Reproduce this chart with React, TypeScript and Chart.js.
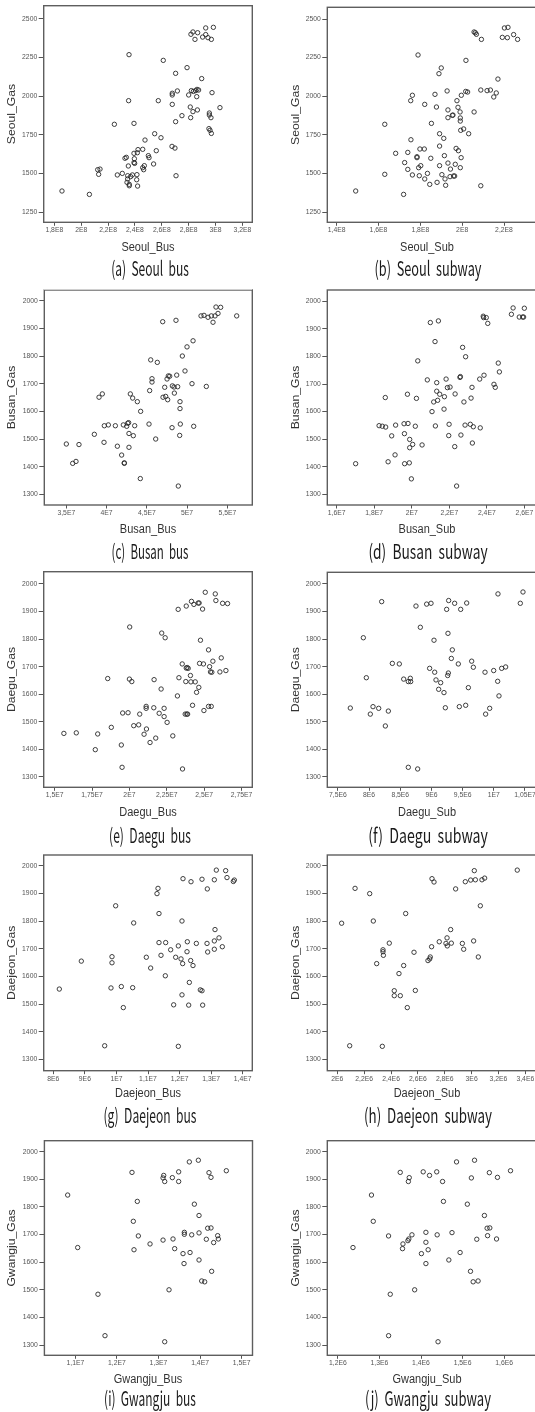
import React, { useEffect, useLayoutEffect, useRef } from 'react';
import { Chart, registerables } from 'chart.js';
Chart.register(...registerables);

type Pt = [number, number];

// ---------- data: [transit ridership, gas] ----------
const seoulBus: Pt[] = [
  [1.857e8, 1386], [2.061e8, 1364], [2.123e8, 1524], [2.14e8, 1528], [2.13e8, 1494], [2.247e8, 1818], [2.269e8, 1490],
  [2.306e8, 1500], [2.326e8, 1598], [2.336e8, 1604], [2.351e8, 1548], [2.356e8, 2269], [2.353e8, 1971], [2.346e8, 1485],
  [2.346e8, 1464], [2.341e8, 1442], [2.358e8, 1429], [2.358e8, 1420], [2.368e8, 1479], [2.381e8, 1490], [2.393e8, 1824],
  [2.393e8, 1630], [2.396e8, 1595], [2.393e8, 1570], [2.398e8, 1565], [2.413e8, 1459], [2.415e8, 1492], [2.42e8, 1418],
  [2.418e8, 1634], [2.423e8, 1654], [2.458e8, 1656], [2.458e8, 1537], [2.465e8, 1524], [2.47e8, 1550], [2.475e8, 1716],
  [2.5e8, 1615], [2.505e8, 1602], [2.539e8, 1561], [2.547e8, 1757], [2.559e8, 1647], [2.594e8, 1731], [2.574e8, 1971],
  [2.611e8, 2232], [2.676e8, 1675], [2.698e8, 1664], [2.706e8, 1485], [2.703e8, 1835], [2.678e8, 1947], [2.678e8, 2008],
  [2.678e8, 2019], [2.716e8, 2034], [2.703e8, 2148], [2.75e8, 1874], [2.788e8, 2185], [2.8e8, 2008], [2.812e8, 1930],
  [2.815e8, 1861], [2.82e8, 2036], [2.832e8, 1900], [2.835e8, 2031], [2.852e8, 2036], [2.86e8, 1997], [2.862e8, 2044],
  [2.874e8, 2040], [2.865e8, 1911], [2.897e8, 2114], [2.954e8, 1891], [2.954e8, 1878], [2.966e8, 1861], [2.951e8, 1790],
  [2.959e8, 1779], [2.969e8, 1759], [2.974e8, 2023], [3.033e8, 1926], [2.817e8, 2401], [2.832e8, 2416], [2.847e8, 2368],
  [2.867e8, 2411], [2.927e8, 2442], [2.904e8, 2383], [2.927e8, 2399], [2.944e8, 2379], [2.969e8, 2368], [2.984e8, 2446],
];

const seoulSub: Pt[] = [
  [1.491e8, 1386], [1.63e8, 1494], [1.63e8, 1818], [1.72e8, 1364], [1.725e8, 1570], [1.74e8, 1526], [1.682e8, 1630],
  [1.74e8, 1636], [1.755e8, 1718], [1.762e8, 1490], [1.754e8, 1971], [1.762e8, 2006], [1.784e8, 1602], [1.784e8, 1608],
  [1.792e8, 1537], [1.795e8, 1485], [1.798e8, 1658], [1.802e8, 1550], [1.789e8, 2267], [1.819e8, 1658], [1.821e8, 1947],
  [1.821e8, 1464], [1.834e8, 1500], [1.845e8, 1429], [1.85e8, 1598], [1.853e8, 1824], [1.87e8, 2012], [1.877e8, 1930],
  [1.88e8, 1442], [1.889e8, 2146], [1.9e8, 2183], [1.892e8, 1677], [1.892e8, 1757], [1.892e8, 1550], [1.903e8, 1492],
  [1.912e8, 1727], [1.915e8, 1615], [1.918e8, 1464], [1.921e8, 1423], [1.928e8, 2034], [1.932e8, 1567], [1.932e8, 1911],
  [1.932e8, 1861], [1.942e8, 1479], [1.944e8, 1528], [1.953e8, 1876], [1.956e8, 1878], [1.959e8, 1483], [1.964e8, 1483],
  [1.967e8, 1559], [1.971e8, 1662], [1.975e8, 1971], [1.98e8, 1928], [1.982e8, 1647], [1.99e8, 1898], [1.991e8, 1859],
  [1.991e8, 1839], [1.993e8, 1779], [1.995e8, 1602], [1.991e8, 1537], [1.996e8, 2006], [2.007e8, 1788], [2.017e8, 2031],
  [2.018e8, 2232], [2.026e8, 2027], [2.031e8, 1757], [2.057e8, 1898], [2.057e8, 2416], [2.063e8, 2411], [2.068e8, 2401],
  [2.092e8, 2368], [2.089e8, 1420], [2.089e8, 2040], [2.119e8, 2036], [2.135e8, 2040], [2.151e8, 1995], [2.163e8, 2021],
  [2.171e8, 2111], [2.192e8, 2381], [2.202e8, 2442], [2.216e8, 2379], [2.219e8, 2446], [2.246e8, 2399], [2.265e8, 2368],
];

const busanBus: Pt[] = [
  [3.5e7, 1482], [3.579e7, 1412], [3.62e7, 1419], [3.657e7, 1480], [3.848e7, 1517], [3.906e7, 1651], [3.947e7, 1663],
  [3.968e7, 1488], [3.972e7, 1548], [4.022e7, 1551], [4.109e7, 1548], [4.134e7, 1474], [4.187e7, 1442], [4.208e7, 1551],
  [4.22e7, 1414], [4.22e7, 1412], [4.25e7, 1546], [4.262e7, 1557], [4.274e7, 1559], [4.278e7, 1520], [4.278e7, 1470],
  [4.295e7, 1663], [4.324e7, 1648], [4.332e7, 1512], [4.349e7, 1548], [4.382e7, 1635], [4.419e7, 1357], [4.423e7, 1600],
  [4.527e7, 1554], [4.535e7, 1675], [4.548e7, 1786], [4.564e7, 1718], [4.564e7, 1706], [4.61e7, 1500], [4.63e7, 1777],
  [4.697e7, 1924], [4.701e7, 1651], [4.722e7, 1687], [4.734e7, 1654], [4.759e7, 1642], [4.751e7, 1717], [4.767e7, 1728],
  [4.784e7, 1727], [4.813e7, 1541], [4.817e7, 1692], [4.838e7, 1688], [4.842e7, 1666], [4.862e7, 1929], [4.871e7, 1731],
  [4.883e7, 1689], [4.891e7, 1330], [4.912e7, 1635], [4.912e7, 1610], [4.916e7, 1554], [4.908e7, 1513], [4.941e7, 1800],
  [4.974e7, 1746], [4.999e7, 1833], [5.061e7, 1700], [5.074e7, 1855], [5.082e7, 1546], [5.173e7, 1945], [5.21e7, 1947],
  [5.239e7, 1690], [5.26e7, 1940], [5.301e7, 1945], [5.322e7, 1922], [5.347e7, 1945], [5.359e7, 1977], [5.384e7, 1954],
  [5.417e7, 1976], [5.616e7, 1945],
];

const busanSub: Pt[] = [
  [1.701e7, 1411], [1.826e7, 1549], [1.843e7, 1547], [1.861e7, 1544], [1.859e7, 1651], [1.874e7, 1418], [1.893e7, 1512],
  [1.911e7, 1443], [1.914e7, 1551], [1.959e7, 1556], [1.961e7, 1520], [1.962e7, 1411], [1.977e7, 1663], [1.98e7, 1557],
  [1.987e7, 1414], [1.989e7, 1499], [1.989e7, 1469], [1.998e7, 1356], [2.005e7, 1481], [2.019e7, 1547], [2.025e7, 1648],
  [2.032e7, 1784], [2.055e7, 1479], [2.083e7, 1715], [2.099e7, 1923], [2.108e7, 1600], [2.117e7, 1635], [2.124e7, 1854],
  [2.126e7, 1548], [2.133e7, 1705], [2.133e7, 1674], [2.138e7, 1641], [2.142e7, 1929], [2.149e7, 1663], [2.172e7, 1609],
  [2.174e7, 1654], [2.183e7, 1718], [2.19e7, 1687], [2.197e7, 1513], [2.199e7, 1554], [2.204e7, 1689], [2.229e7, 1473],
  [2.231e7, 1664], [2.239e7, 1330], [2.257e7, 1724], [2.259e7, 1727], [2.262e7, 1515], [2.271e7, 1833], [2.278e7, 1635],
  [2.284e7, 1551], [2.287e7, 1799], [2.312e7, 1554], [2.316e7, 1649], [2.321e7, 1688], [2.323e7, 1486], [2.328e7, 1545],
  [2.362e7, 1718], [2.365e7, 1541], [2.381e7, 1946], [2.383e7, 1941], [2.385e7, 1732], [2.397e7, 1941], [2.405e7, 1920],
  [2.438e7, 1699], [2.445e7, 1688], [2.461e7, 1776], [2.467e7, 1744], [2.531e7, 1953], [2.54e7, 1976], [2.573e7, 1943],
  [2.591e7, 1943], [2.6e7, 1975], [2.596e7, 1943],
];

const daeguBus: Pt[] = [
  [1.562e7, 1458], [1.645e7, 1460], [1.772e7, 1399], [1.788e7, 1456], [1.879e7, 1480], [1.855e7, 1657], [1.946e7, 1416],
  [1.951e7, 1335], [1.955e7, 1532], [1.991e7, 1533], [2.002e7, 1844], [2.0e7, 1655], [2.016e7, 1646], [2.029e7, 1486],
  [2.062e7, 1489], [2.069e7, 1528], [2.098e7, 1455], [2.112e7, 1556], [2.112e7, 1549], [2.114e7, 1474], [2.138e7, 1425],
  [2.163e7, 1551], [2.165e7, 1653], [2.176e7, 1441], [2.199e7, 1531], [2.212e7, 1619], [2.216e7, 1822], [2.232e7, 1519],
  [2.232e7, 1549], [2.239e7, 1805], [2.252e7, 1498], [2.29e7, 1449], [2.321e7, 1594], [2.326e7, 1908], [2.331e7, 1660],
  [2.353e7, 1710], [2.355e7, 1329], [2.373e7, 1528], [2.38e7, 1695], [2.377e7, 1646], [2.38e7, 1920], [2.384e7, 1528],
  [2.386e7, 1697], [2.389e7, 1528], [2.393e7, 1694], [2.408e7, 1668], [2.411e7, 1645], [2.415e7, 1937], [2.422e7, 1560],
  [2.431e7, 1926], [2.44e7, 1645], [2.449e7, 1607], [2.46e7, 1931], [2.466e7, 1931], [2.464e7, 1625], [2.469e7, 1712],
  [2.475e7, 1796], [2.489e7, 1909], [2.495e7, 1710], [2.498e7, 1541], [2.507e7, 1970], [2.529e7, 1761], [2.529e7, 1556],
  [2.536e7, 1700], [2.547e7, 1556], [2.542e7, 1681], [2.551e7, 1680], [2.558e7, 1720], [2.574e7, 1964], [2.578e7, 1940],
  [2.605e7, 1681], [2.614e7, 1732], [2.623e7, 1930], [2.645e7, 1686], [2.656e7, 1929],
];

const daeguSub: Pt[] = [
  [7.699e6, 1550], [7.908e6, 1805], [7.956e6, 1660], [8.02e6, 1528], [8.063e6, 1555], [8.154e6, 1549], [8.202e6, 1936],
  [8.261e6, 1485], [8.309e6, 1539], [8.373e6, 1712], [8.485e6, 1710], [8.555e6, 1655], [8.629e6, 1335], [8.629e6, 1646],
  [8.661e6, 1658], [8.667e6, 1646], [8.752e6, 1920], [8.779e6, 1329], [8.822e6, 1843], [8.923e6, 1927], [8.971e6, 1694],
  [8.993e6, 1930], [9.041e6, 1796], [9.052e6, 1680], [9.073e6, 1652], [9.116e6, 1618], [9.148e6, 1642], [9.201e6, 1606],
  [9.223e6, 1551], [9.244e6, 1908], [9.265e6, 1821], [9.26e6, 1668], [9.271e6, 1677], [9.276e6, 1940], [9.319e6, 1730],
  [9.335e6, 1761], [9.372e6, 1930], [9.431e6, 1710], [9.447e6, 1555], [9.469e6, 1908], [9.549e6, 1560], [9.565e6, 1931],
  [9.592e6, 1624], [9.645e6, 1720], [9.672e6, 1698], [9.869e6, 1528], [9.859e6, 1680], [9.934e6, 1549], [9.998e6, 1686],
  [1.0062e7, 1647], [1.0067e7, 1964], [1.0083e7, 1594], [1.0126e7, 1694], [1.019e7, 1699], [1.0425e7, 1930], [1.0468e7, 1971],
];

const daejeonBus: Pt[] = [
  [8.19e6, 1554], [8.887e6, 1655], [9.627e6, 1349], [9.827e6, 1558], [9.859e6, 1671], [9.859e6, 1649], [9.975e6, 1855],
  [1.0155e7, 1563], [1.0218e7, 1487], [1.0514e7, 1559], [1.0546e7, 1793], [1.0947e7, 1669], [1.1084e7, 1630], [1.1285e7, 1899],
  [1.1317e7, 1918], [1.1348e7, 1827], [1.1348e7, 1722], [1.1412e7, 1676], [1.156e7, 1722], [1.1549e7, 1602], [1.1718e7, 1696],
  [1.1813e7, 1497], [1.1877e7, 1669], [1.1961e7, 1710], [1.1961e7, 1347], [1.2046e7, 1663], [1.2077e7, 1800], [1.2077e7, 1533],
  [1.2098e7, 1646], [1.2109e7, 1953], [1.2236e7, 1689], [1.2246e7, 1725], [1.2289e7, 1496], [1.231e7, 1578], [1.2352e7, 1657],
  [1.2363e7, 1942], [1.2426e7, 1639], [1.2532e7, 1719], [1.2658e7, 1551], [1.2711e7, 1951], [1.2711e7, 1548], [1.2732e7, 1496],
  [1.287e7, 1719], [1.288e7, 1916], [1.2891e7, 1688], [1.3102e7, 1949], [1.3102e7, 1698], [1.3102e7, 1728], [1.3123e7, 1769],
  [1.3165e7, 1984], [1.325e7, 1739], [1.3355e7, 1707], [1.3461e7, 1982], [1.3503e7, 1957], [1.3704e7, 1943], [1.3736e7, 1948],
];

const daejeonSub: Pt[] = [
  [2.032e6, 1792], [2.092e6, 1349], [2.132e6, 1918], [2.241e6, 1899], [2.268e6, 1800], [2.293e6, 1646], [2.335e6, 1347],
  [2.34e6, 1696], [2.34e6, 1689], [2.343e6, 1676], [2.387e6, 1720], [2.424e6, 1548], [2.424e6, 1530], [2.459e6, 1610],
  [2.469e6, 1530], [2.494e6, 1639], [2.509e6, 1827], [2.521e6, 1487], [2.571e6, 1687], [2.581e6, 1549], [2.675e6, 1657],
  [2.688e6, 1663], [2.692e6, 1670], [2.702e6, 1707], [2.705e6, 1953], [2.72e6, 1941], [2.759e6, 1725], [2.809e6, 1719],
  [2.817e6, 1739], [2.819e6, 1710], [2.844e6, 1769], [2.849e6, 1720], [2.881e6, 1916], [2.931e6, 1719], [2.941e6, 1698],
  [2.953e6, 1942], [2.993e6, 1948], [3.015e6, 1728], [3.02e6, 1982], [3.028e6, 1949], [3.05e6, 1670], [3.065e6, 1855],
  [3.077e6, 1949], [3.097e6, 1955], [3.34e6, 1984],
];

const gwangjuBus: Pt[] = [
  [1.0814e7, 1843], [1.1055e7, 1653], [1.1543e7, 1484], [1.1712e7, 1334], [1.2362e7, 1925], [1.2394e7, 1748], [1.241e7, 1645],
  [1.249e7, 1820], [1.2515e7, 1695], [1.2796e7, 1666], [1.3109e7, 1905], [1.3125e7, 1914], [1.3149e7, 1892], [1.3109e7, 1680],
  [1.3149e7, 1312], [1.3253e7, 1500], [1.3333e7, 1906], [1.3349e7, 1684], [1.3389e7, 1649], [1.3485e7, 1927], [1.3485e7, 1892],
  [1.359e7, 1631], [1.3614e7, 1595], [1.3622e7, 1708], [1.3622e7, 1701], [1.3742e7, 1963], [1.3759e7, 1635], [1.3799e7, 1699],
  [1.3863e7, 1810], [1.3959e7, 1969], [1.3975e7, 1769], [1.3975e7, 1706], [1.3975e7, 1608], [1.4039e7, 1532], [1.4111e7, 1529],
  [1.4151e7, 1683], [1.4183e7, 1723], [1.4215e7, 1924], [1.4263e7, 1724], [1.4263e7, 1907], [1.4279e7, 1567], [1.4327e7, 1671],
  [1.4424e7, 1696], [1.444e7, 1684], [1.4632e7, 1931],
];

const gwangjuSub: Pt[] = [
  [1.2363e6, 1653], [1.2808e6, 1843], [1.2851e6, 1748], [1.3219e6, 1695], [1.326e6, 1484], [1.3566e6, 1666], [1.3685e6, 1678],
  [1.3707e6, 1684], [1.3782e6, 1699], [1.35e6, 1925], [1.322e6, 1334], [1.3717e6, 1906], [1.3696e6, 1892], [1.3555e6, 1649],
  [1.3847e6, 1500], [1.401e6, 1631], [1.4053e6, 1927], [1.4118e6, 1672], [1.4118e6, 1595], [1.4118e6, 1708], [1.4172e6, 1645],
  [1.4205e6, 1914], [1.4378e6, 1927], [1.4389e6, 1699], [1.441e6, 1312], [1.4519e6, 1892], [1.454e6, 1820], [1.467e6, 1608],
  [1.4746e6, 1707], [1.4855e6, 1963], [1.4941e6, 1635], [1.5115e6, 1810], [1.5191e6, 1567], [1.5212e6, 1905], [1.5288e6, 1969],
  [1.5255e6, 1529], [1.5374e6, 1532], [1.5342e6, 1683], [1.5526e6, 1769], [1.5591e6, 1723], [1.5656e6, 1724], [1.5602e6, 1696],
  [1.5645e6, 1924], [1.5818e6, 1684], [1.584e6, 1907], [1.6154e6, 1931],
];

// ---------- tick values and labels ----------
const seoulGasTicks = [1250, 1500, 1750, 2000, 2250, 2500];
const gasTicks = [1300, 1400, 1500, 1600, 1700, 1800, 1900, 2000];

const seoulBusTicks = [1.8e8, 2.0e8, 2.2e8, 2.4e8, 2.6e8, 2.8e8, 3.0e8, 3.2e8];
const seoulBusLabels = ['1,8E8', '2E8', '2,2E8', '2,4E8', '2,6E8', '2,8E8', '3E8', '3,2E8'];
const seoulSubTicks = [1.4e8, 1.6e8, 1.8e8, 2.0e8, 2.2e8];
const seoulSubLabels = ['1,4E8', '1,6E8', '1,8E8', '2E8', '2,2E8'];
const busanBusTicks = [3.5e7, 4.0e7, 4.5e7, 5.0e7, 5.5e7];
const busanBusLabels = ['3,5E7', '4E7', '4,5E7', '5E7', '5,5E7'];
const busanSubTicks = [1.6e7, 1.8e7, 2.0e7, 2.2e7, 2.4e7, 2.6e7];
const busanSubLabels = ['1,6E7', '1,8E7', '2E7', '2,2E7', '2,4E7', '2,6E7'];
const daeguBusTicks = [1.5e7, 1.75e7, 2.0e7, 2.25e7, 2.5e7, 2.75e7];
const daeguBusLabels = ['1,5E7', '1,75E7', '2E7', '2,25E7', '2,5E7', '2,75E7'];
const daeguSubTicks = [7.5e6, 8.0e6, 8.5e6, 9.0e6, 9.5e6, 1.0e7, 1.05e7];
const daeguSubLabels = ['7,5E6', '8E6', '8,5E6', '9E6', '9,5E6', '1E7', '1,05E7'];
const daejeonBusTicks = [8e6, 9e6, 1.0e7, 1.1e7, 1.2e7, 1.3e7, 1.4e7];
const daejeonBusLabels = ['8E6', '9E6', '1E7', '1,1E7', '1,2E7', '1,3E7', '1,4E7'];
const daejeonSubTicks = [2.0e6, 2.2e6, 2.4e6, 2.6e6, 2.8e6, 3.0e6, 3.2e6, 3.4e6];
const daejeonSubLabels = ['2E6', '2,2E6', '2,4E6', '2,6E6', '2,8E6', '3E6', '3,2E6', '3,4E6'];
const gwangjuBusTicks = [1.1e7, 1.2e7, 1.3e7, 1.4e7, 1.5e7];
const gwangjuBusLabels = ['1,1E7', '1,2E7', '1,3E7', '1,4E7', '1,5E7'];
const gwangjuSubTicks = [1.2e6, 1.3e6, 1.4e6, 1.5e6, 1.6e6];
const gwangjuSubLabels = ['1,2E6', '1,3E6', '1,4E6', '1,5E6', '1,6E6'];

// ---------- panel layout ----------
type PanelCfg = {
  key: string; caption: string; xTitle: string; yTitle: string; data: Pt[];
  xMin: number; xMax: number; yMin: number; yMax: number;
  xTicks: number[]; xLabels: string[]; yTicks: number[];
  col: 0 | 1; boxL: number; boxR: number; boxT: number; boxB: number;
  xTitleY: number; capY: number; capW: number;
};

const panels: PanelCfg[] = [
  { key: 'a', caption: '(a)  Seoul  bus', xTitle: 'Seoul_Bus', yTitle: 'Seoul_Gas', data: seoulBus,
    xMin: 1.7209e8, xMax: 3.2738e8, yMin: 1183.3, yMax: 2586.1, xTicks: seoulBusTicks, xLabels: seoulBusLabels, yTicks: seoulGasTicks,
    col: 0, boxL: 43.7, boxR: 252.3, boxT: 5.7, boxB: 222.3, xTitleY: 247.3, capY: 268, capW: 78 },
  { key: 'b', caption: '(b)  Seoul  subway', xTitle: 'Seoul_Sub', yTitle: 'Seoul_Gas', data: seoulSub,
    xMin: 1.3552e8, xMax: 2.396e8, yMin: 1183.3, yMax: 2575.8, xTicks: seoulSubTicks, xLabels: seoulSubLabels, yTicks: seoulGasTicks,
    col: 1, boxL: 327.3, boxR: 545, boxT: 7.3, boxB: 222.3, xTitleY: 247.3, capY: 268, capW: 107 },
  { key: 'c', caption: '(c)  Busan  bus', xTitle: 'Busan_Bus', yTitle: 'Busan_Gas', data: busanBus,
    xMin: 3.2263e7, xMax: 5.81e7, yMin: 1261.5, yMax: 2038.6, xTicks: busanBusTicks, xLabels: busanBusLabels, yTicks: gasTicks,
    col: 0, boxL: 44.3, boxR: 252.3, boxT: 290, boxB: 505, xTitleY: 529.3, capY: 550.7, capW: 77 },
  { key: 'd', caption: '(d)  Busan  subway', xTitle: 'Busan_Sub', yTitle: 'Busan_Gas', data: busanSub,
    xMin: 1.55e7, xMax: 2.71e7, yMin: 1261.2, yMax: 2041.1, xTicks: busanSubTicks, xLabels: busanSubLabels, yTicks: gasTicks,
    col: 1, boxL: 327.3, boxR: 545, boxT: 290, boxB: 505, xTitleY: 529.3, capY: 550.7, capW: 119 },
  { key: 'e', caption: '(e)  Daegu  bus', xTitle: 'Daegu_Bus', yTitle: 'Daegu_Gas', data: daeguBus,
    xMin: 1.4271e7, xMax: 2.8215e7, yMin: 1262.5, yMax: 2044.6, xTicks: daeguBusTicks, xLabels: daeguBusLabels, yTicks: gasTicks,
    col: 0, boxL: 43.7, boxR: 252.3, boxT: 571.7, boxB: 787.3, xTitleY: 812.3, capY: 835, capW: 82 },
  { key: 'f', caption: '(f)  Daegu  subway', xTitle: 'Daegu_Sub', yTitle: 'Daegu_Gas', data: daeguSub,
    xMin: 7.33e6, xMax: 1.0821e7, yMin: 1262.5, yMax: 2042.4, xTicks: daeguSubTicks, xLabels: daeguSubLabels, yTicks: gasTicks,
    col: 1, boxL: 327.3, boxR: 545, boxT: 572.3, boxB: 787.3, xTitleY: 812.3, capY: 835, capW: 120 },
  { key: 'g', caption: '(g)  Daejeon  bus', xTitle: 'Daejeon_Bus', yTitle: 'Daejeon_Gas', data: daejeonBus,
    xMin: 7.695e6, xMax: 1.4305e7, yMin: 1258.9, yMax: 2038.6, xTicks: daejeonBusTicks, xLabels: daejeonBusLabels, yTicks: gasTicks,
    col: 0, boxL: 43.7, boxR: 252.3, boxT: 855, boxB: 1070.7, xTitleY: 1093.3, capY: 1115, capW: 93 },
  { key: 'h', caption: '(h)  Daejeon  subway', xTitle: 'Daejeon_Sub', yTitle: 'Daejeon_Gas', data: daejeonSub,
    xMin: 1.9253e6, xMax: 3.5465e6, yMin: 1258.9, yMax: 2038.6, xTicks: daejeonSubTicks, xLabels: daejeonSubLabels, yTicks: gasTicks,
    col: 1, boxL: 327.3, boxR: 545, boxT: 855, boxB: 1070.7, xTitleY: 1093.7, capY: 1115, capW: 128 },
  { key: 'i', caption: '(i)  Gwangju  bus', xTitle: 'Gwangju_Bus', yTitle: 'Gwangju_Gas', data: gwangjuBus,
    xMin: 1.0254e7, xMax: 1.5262e7, yMin: 1263, yMax: 2039.7, xTicks: gwangjuBusTicks, xLabels: gwangjuBusLabels, yTicks: gasTicks,
    col: 0, boxL: 44.4, boxR: 252.5, boxT: 1140.7, boxB: 1355.3, xTitleY: 1379.3, capY: 1398, capW: 92 },
  { key: 'j', caption: '(j)  Gwangju  subway', xTitle: 'Gwangju_Sub', yTitle: 'Gwangju_Gas', data: gwangjuSub,
    xMin: 1.1745e6, xMax: 1.6984e6, yMin: 1263, yMax: 2039.7, xTicks: gwangjuSubTicks, xLabels: gwangjuSubLabels, yTicks: gasTicks,
    col: 1, boxL: 327.3, boxR: 545, boxT: 1140.7, boxB: 1355.3, xTitleY: 1380, capY: 1398, capW: 126 },
];

const FAMILY = '"Liberation Sans", Arial, Helvetica, sans-serif';
const TICK_FONT = { family: FAMILY, size: 6.8 };

// frame on all four sides + axis titles (the source figure is stretched vertically ~15%)
const framePlugin = {
  id: 'frame',
  beforeDatasetsDraw(chart: any) {
    const { ctx, chartArea: a } = chart;
    ctx.save();
    ctx.strokeStyle = '#5e5e5e';
    ctx.lineWidth = 1.4;
    ctx.strokeRect(a.left, a.top, a.right - a.left, a.bottom - a.top);
    ctx.restore();
  },
  afterDraw(chart: any, _args: any, opts: any) {
    const { ctx, chartArea: a } = chart;
    ctx.save();
    ctx.fillStyle = '#333';
    ctx.textAlign = 'center';
    ctx.textBaseline = 'middle';
    ctx.save();
    ctx.translate(opts.x, opts.y);
    ctx.scale(1, 1.15);
    ctx.font = `11px ${FAMILY}`;
    ctx.fillText(opts.text, 0, 0);
    ctx.restore();
    ctx.save();
    ctx.translate(opts.yx, (a.top + a.bottom) / 2);
    ctx.rotate(-Math.PI / 2);
    ctx.scale(1, 0.87);
    ctx.font = `12.2px ${FAMILY}`;
    ctx.fillText(opts.ytext, 0, 0);
    ctx.restore();
    ctx.restore();
  },
};

function Panel({ p }: { p: PanelCfg }) {
  const ref = useRef<HTMLCanvasElement | null>(null);
  const cx = p.col === 0 ? 0 : 267;
  const cw = p.col === 0 ? 267 : 290;
  const cy = Math.floor(p.boxT - 8);
  const ch = Math.round(p.xTitleY + 10 - cy);
  const xTitleX = p.col === 0 ? 148 : 427;
  const yTitleX = p.col === 0 ? 11.7 : 296.3;

  useEffect(() => {
    const canvas = ref.current;
    if (!canvas) return;
    const yW = p.boxL - cx;
    const xH = ch - (p.boxB - cy);
    const chart = new Chart(canvas, {
      type: 'scatter',
      data: {
        datasets: [{
          data: p.data.map(([x, y]) => ({ x, y })),
          pointRadius: 2.2,
          pointHoverRadius: 2.2,
          pointBorderWidth: 0.9,
          pointBorderColor: '#2a2a2a',
          pointBackgroundColor: 'rgba(255,255,255,0)',
        }],
      },
      options: {
        responsive: false,
        animation: false,
        events: [],
        layout: { padding: { top: p.boxT - cy, right: cx + cw - p.boxR, bottom: 0, left: 0 } },
        plugins: {
          legend: { display: false },
          tooltip: { enabled: false },
          frame: { text: p.xTitle, x: xTitleX - cx, y: p.xTitleY - cy, ytext: p.yTitle, yx: yTitleX - cx },
        },
        scales: {
          x: {
            type: 'linear',
            position: 'bottom',
            min: p.xMin,
            max: p.xMax,
            afterBuildTicks: (s: any) => { s.ticks = p.xTicks.map((v) => ({ value: v })); },
            afterFit: (s: any) => { s.height = xH; },
            grid: { display: true, drawOnChartArea: false, drawTicks: true, tickLength: 3.5, color: '#555', lineWidth: 1 },
            border: { display: false },
            ticks: {
              font: TICK_FONT, color: '#555', padding: 0.5, autoSkip: false, maxRotation: 0, minRotation: 0,
              callback: (_v: any, i: number) => p.xLabels[i],
            },
          },
          y: {
            type: 'linear',
            position: 'left',
            min: p.yMin,
            max: p.yMax,
            afterBuildTicks: (s: any) => { s.ticks = p.yTicks.map((v) => ({ value: v })); },
            afterFit: (s: any) => { s.width = yW; },
            grid: { display: true, drawOnChartArea: false, drawTicks: true, tickLength: 5, color: '#555', lineWidth: 1 },
            border: { display: false },
            ticks: {
              font: TICK_FONT, color: '#555', padding: 1.5, autoSkip: false,
              callback: (v: any) => String(v),
            },
            title: { display: false },
          },
        },
      } as any,
      plugins: [framePlugin as any],
    });
    return () => chart.destroy();
  }, []);

  return (
    <canvas
      ref={ref}
      width={cw}
      height={ch}
      style={{ position: 'absolute', left: cx, top: cy, width: cw, height: ch, display: 'block' }}
    />
  );
}

function Caption({ text, x, y, w }: { text: string; x: number; y: number; w: number }) {
  const ref = useRef<HTMLDivElement | null>(null);
  useLayoutEffect(() => {
    const el = ref.current;
    if (!el) return;
    const nat = el.offsetWidth || w;
    el.style.transform = `translate(-50%, -50%) scaleX(${w / nat})`;
  }, []);
  return (
    <div
      ref={ref}
      style={{
        position: 'absolute', left: x, top: y, whiteSpace: 'pre',
        fontFamily: '"Noto Sans CJK KR", "Noto Sans", sans-serif', fontSize: 20, lineHeight: '24px',
        color: '#1a1a1a', transform: 'translate(-50%, -50%)',
      }}
    >
      {text}
    </div>
  );
}

export default function App() {
  return (
    <div style={{ position: 'absolute', left: 0, top: 0, width: 535, height: 1412, overflow: 'hidden', background: '#fff' }}>
      {panels.map((p) => <Panel key={p.key} p={p} />)}
      {panels.map((p) => (
        <Caption key={'c' + p.key} text={p.caption} x={p.col === 0 ? 150 : 428} y={p.capY} w={p.capW} />
      ))}
      <div style={{ position: 'absolute', left: 43, top: 289, width: 209, height: 1, background: '#d0d0d0' }} />
    </div>
  );
}
